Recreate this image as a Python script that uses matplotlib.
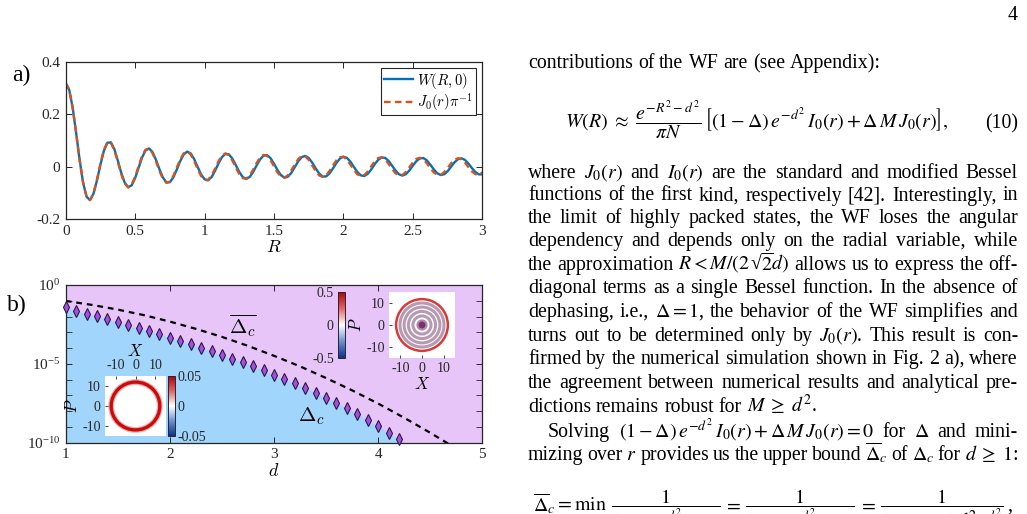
import numpy as np
import matplotlib
matplotlib.use('Agg')
import matplotlib.pyplot as plt
from matplotlib.patches import Circle
from matplotlib.colors import LinearSegmentedColormap, Normalize
from matplotlib.cm import ScalarMappable
from matplotlib.ticker import FixedLocator, FixedFormatter

# ---------------- data ----------------
# panel a: W(R,0) (numerics) and J0(r)/pi, sampled every 0.025 in R
R = np.linspace(0, 3, 121)
W_num = [0.3183, 0.2936, 0.2253, 0.1290, 0.0263, -0.0605, -0.1145, -0.1280, -0.1035,
         -0.0535, 0.0072, 0.0600, 0.0907,
         0.0924, 0.0669, 0.0236, -0.0239, -0.0615, -0.0787, -0.0717, -0.0438,
         -0.0043, 0.0347, 0.0616, 0.0690, 0.0556, 0.0261, -0.0101, -0.0419, -0.0601, -0.0597,
         -0.0415, -0.0114, 0.0212, 0.0464, 0.0570, 0.0502, 0.0286, -0.0011, -0.0297, -0.0486,
         -0.0525, -0.0405, -0.0166, 0.0117, 0.0359, 0.0487, 0.0466, 0.0305, 0.0056, -0.0205,
         -0.0400, -0.0470, -0.0397, -0.0206, 0.0044, 0.0275, 0.0420, 0.0436, 0.0320, 0.0109,
         -0.0131, -0.0328, -0.0422, -0.0388, -0.0237, -0.0017, 0.0205, 0.0362, 0.0407, 0.0329,
         0.0152, -0.0068, -0.0264, -0.0378, -0.0376, -0.0261, -0.0068, 0.0143, 0.0308, 0.0378,
         0.0333, 0.0188, -0.0012, -0.0206, -0.0335, -0.0362, -0.0278, -0.0112, 0.0087, 0.0257,
         0.0347, 0.0332, 0.0216, 0.0036, -0.0153, -0.0293, -0.0344, -0.0290, -0.0148, 0.0036,
         0.0208, 0.0315, 0.0326, 0.0238, 0.0079, -0.0103, -0.0252, -0.0323, -0.0296, -0.0179,
         -0.0009, 0.0162, 0.0282, 0.0316, 0.0254, 0.0116, -0.0057, -0.0210, -0.0299, -0.0296]
J0_pi = [0.3183, 0.2936, 0.2253, 0.1290, 0.0263, -0.0605, -0.1145, -0.1276, -0.1020,
         -0.0501, 0.0112, 0.0634, 0.0922,
         0.0915, 0.0637, 0.0188, -0.0288, -0.0649, -0.0794, -0.0694, -0.0391,
         0.0016, 0.0398, 0.0644, 0.0685, 0.0517, 0.0200, -0.0165, -0.0468, -0.0618, -0.0575,
         -0.0360, -0.0043, 0.0278, 0.0505, 0.0572, 0.0463, 0.0216, -0.0089, -0.0360, -0.0514,
         -0.0508, -0.0347, -0.0085, 0.0198, 0.0414, 0.0499, 0.0430, 0.0232, -0.0033, -0.0283,
         -0.0441, -0.0461, -0.0341, -0.0118, 0.0136, 0.0345, 0.0444, 0.0406, 0.0245, 0.0011,
         -0.0222, -0.0383, -0.0425, -0.0336, -0.0146, 0.0086, 0.0288, 0.0399, 0.0386, 0.0256,
         0.0048, -0.0171, -0.0334, -0.0394, -0.0332, -0.0169, 0.0043, 0.0240, 0.0360, 0.0369,
         0.0264, 0.0080, -0.0126, -0.0292, -0.0366, -0.0327, -0.0188, 0.0006, 0.0197, 0.0325,
         0.0352, 0.0271, 0.0108, -0.0087, -0.0253, -0.0339, -0.0321, -0.0204, -0.0027, 0.0158,
         0.0292, 0.0335, 0.0275, 0.0131, -0.0051, -0.0216, -0.0312, -0.0314, -0.0218, -0.0056,
         0.0122, 0.0261, 0.0318, 0.0277, 0.0152, -0.0019, -0.0183, -0.0289, -0.0306, -0.0228]

# panel b: Delta_c (diamonds) and its upper bound (dashed), as log10 values
d_pts = np.round(np.arange(1.0, 4.25, 0.1), 2)
delta_c_log10 = [-1.42, -1.65, -1.82, -1.99, -2.18, -2.37, -2.56, -2.75, -2.94, -3.11,
                 -3.34, -3.53, -3.74, -3.97, -4.19, -4.44, -4.67, -4.88, -5.16, -5.41,
                 -5.71, -5.98, -6.24, -6.53, -6.83, -7.15, -7.48, -7.82, -8.18, -8.56,
                 -8.94, -9.37, -9.77]
d_edge_extra = [4.3]
edge_extra_log10 = [-10.2]
d_bound = [1.0, 1.25, 1.5, 1.75, 2.0, 2.25, 2.5, 2.75, 3.0, 3.25, 3.5, 3.75, 4.0, 4.25, 4.5, 4.75]
bound_log10 = [-1.01, -1.26, -1.56, -1.91, -2.32, -2.78, -3.29, -3.86, -4.49, -5.16,
               -5.90, -6.68, -7.52, -8.42, -9.37, -10.37]

# insets: ring radii (phase-space units) seen in the two Wigner-function maps
rings_top = [4.2, 6.3, 8.3, 10.2]
ring_top_outer = 12.0
blob_top = [2.6, 1.6]
ring_bottom = 12.2

# ---------------- style ----------------
plt.rcParams['font.family'] = ['Liberation Serif', 'DejaVu Serif']
plt.rcParams['mathtext.fontset'] = 'cm'
plt.rcParams['axes.unicode_minus'] = False

W, H = 1027, 514
fig = plt.figure(figsize=(10.27, 5.14), dpi=100)
renderer = fig.canvas.get_renderer()

def fx(x):
    return x / W

def fy(y):
    return 1 - y / H

def box(x0, y0, x1, y1):
    return [fx(x0), fy(y1), fx(x1) - fx(x0), fy(y0) - fy(y1)]

axc = '#262626'

def matlab_axes(ax, fs=11):
    ax.tick_params(direction='in', top=True, right=True, length=4, width=0.7,
                   color=axc, labelsize=fs, labelcolor=axc, pad=4)
    ax.tick_params(which='minor', direction='in', top=True, right=True, length=2.5,
                   width=0.6, color=axc)
    for s in ax.spines.values():
        s.set_linewidth(0.9)
        s.set_color(axc)

# ---------------- panel a ----------------
ax1 = fig.add_axes(box(65.7, 61.7, 482.3, 219))
ax1.plot(R, W_num, color='#0072BD', lw=1.7, label=r'$W(R,0)$')
ax1.plot(R, J0_pi, color='#D95319', lw=1.7, dashes=(2.8, 1.8), label=r'$J_0(r)\pi^{-1}$')
ax1.set_xlim(0, 3)
ax1.set_ylim(-0.2, 0.4)
ax1.set_xticks([0, 0.5, 1, 1.5, 2, 2.5, 3])
ax1.set_xticklabels(['0', '0.5', '1', '1.5', '2', '2.5', '3'])
ax1.set_yticks([-0.2, 0, 0.2, 0.4])
ax1.set_yticklabels(['-0.2', '0', '0.2', '0.4'])
matlab_axes(ax1)
ax1.set_xlabel('$R$', fontsize=13, labelpad=1)
leg = ax1.legend(loc='upper right', fontsize=10.6, fancybox=False, framealpha=1,
                 edgecolor=axc, borderpad=0.15, handlelength=2.0, handletextpad=0.3,
                 labelspacing=0.05, borderaxespad=0.45)
leg.get_frame().set_linewidth(0.8)

# ---------------- panel b ----------------
ax2 = fig.add_axes(box(65.7, 285, 482.3, 442.7))
ax2.set_facecolor('#E7C5F9')
ax2.set_yscale('log')
edge_d = list(d_pts) + d_edge_extra
edge_y = 10.0 ** np.array(delta_c_log10 + edge_extra_log10)
ax2.fill_between(edge_d, 1e-12, edge_y, color='#A2D5FB', lw=0)
ax2.plot(d_bound, 10.0 ** np.array(bound_log10), color='black', lw=1.6, dashes=(2.6, 2.2))
ax2.plot(d_pts, 10.0 ** np.array(delta_c_log10), ls='none', marker='d', ms=5.8,
         mfc='#A24FE6', mec='#2B1B3C', mew=0.8, clip_on=False, zorder=5)
ax2.set_xlim(1, 5)
ax2.set_ylim(1e-10, 1)
ax2.set_xticks([1, 2, 3, 4, 5])
ax2.set_xticklabels(['1', '2', '3', '4', '5'])
ax2.yaxis.set_major_locator(FixedLocator([1e-10, 1e-5, 1]))
ax2.yaxis.set_major_formatter(FixedFormatter([r'$\mathdefault{10^{-10}}$',
                                              r'$\mathdefault{10^{-5}}$',
                                              r'$\mathdefault{10^{0}}$']))
ax2.yaxis.set_minor_locator(FixedLocator([10.0 ** (-k) for k in range(1, 10) if k != 5]))
ax2.yaxis.set_minor_formatter(FixedFormatter([]))
matlab_axes(ax2)
ax2.tick_params(which='minor', length=4)
ax2.set_xlabel('$d$', fontsize=13, labelpad=1)
ax2.text(2.70, 10 ** -2.6, r'$\overline{\Delta_c}$', fontsize=15, ha='center', va='center')
ax2.text(3.36, 10 ** -8.3, r'$\Delta_c$', fontsize=15, ha='center', va='center')

fig.text(fx(21), fy(75), 'a)', fontsize=17, ha='center', va='center')
fig.text(fx(17), fy(305), 'b)', fontsize=17, ha='center', va='center')

# ---------------- insets ----------------
cmap = LinearSegmentedColormap.from_list('rwb', ['#0d2f8c', '#6d8fd0', '#ffffff', '#e06565', '#b00010'])

def wigner_axes(rect):
    a = fig.add_axes(rect)
    a.set_facecolor('white')
    a.set_xlim(-15.3, 15.3)
    a.set_ylim(-15.3, 15.3)
    a.set_xticks([-10, 0, 10])
    a.set_yticks([-10, 0, 10])
    a.set_xticklabels(['-10', '0', '10'])
    a.set_yticklabels(['-10', '0', '10'])
    a.tick_params(direction='in', length=2, width=0.6, color=axc, labelsize=10,
                  labelcolor=axc, pad=3)
    for s in a.spines.values():
        s.set_visible(False)
    return a

# top-right map
ai1 = wigner_axes(box(389, 292, 455, 358))
for r in rings_top:
    ai1.add_patch(Circle((0, 0), r, fill=False, ec='#a5819f', lw=2.2, alpha=0.8))
ai1.add_patch(Circle((0, 0), ring_top_outer, fill=False, ec='#d83a3a', lw=1.8))
ai1.add_patch(Circle((0, 0), blob_top[0], color='#b386aa', lw=0))
ai1.add_patch(Circle((0, 0), blob_top[1], color='#7c2f6c', lw=0))
ai1.set_xlabel('$X$', fontsize=12, labelpad=1)
ai1.set_ylabel('$P$', fontsize=12, labelpad=1)

cb1 = fig.add_axes(box(338, 292, 345, 358))
c1 = fig.colorbar(ScalarMappable(Normalize(-0.5, 0.5), cmap), cax=cb1, ticks=[-0.5, 0, 0.5])
cb1.yaxis.set_ticks_position('left')
cb1.set_yticklabels(['-0.5', '0', '0.5'])
cb1.tick_params(labelsize=10, length=0, labelcolor=axc, pad=3)
c1.outline.set_linewidth(0.7)
c1.outline.set_edgecolor(axc)

# bottom-left map
ai2 = wigner_axes(box(105, 376, 166, 436))
ai2.add_patch(Circle((0, 0), ring_bottom, fill=False, ec='#e89090', lw=4.2, alpha=0.7))
ai2.add_patch(Circle((0, 0), ring_bottom, fill=False, ec='#c80c0c', lw=2.4))
ai2.xaxis.set_ticks_position('top')
ai2.xaxis.set_label_position('top')
ai2.set_xlabel('$X$', fontsize=12, labelpad=2)
ai2.set_ylabel('$P$', fontsize=12, labelpad=1)

cb2 = fig.add_axes(box(168, 376, 175, 436))
c2 = fig.colorbar(ScalarMappable(Normalize(-0.05, 0.05), cmap), cax=cb2, ticks=[-0.05, 0, 0.05])
cb2.set_yticklabels(['-0.05', '0', '0.05'])
cb2.tick_params(labelsize=10, length=0, labelcolor=axc, pad=2)
c2.outline.set_linewidth(0.7)
c2.outline.set_edgecolor(axc)

# ---------------- text column ----------------
FS = 14.3
X0, X1 = 528, 1018

def tx(x, y, s, ha='left', fs=FS):
    return fig.text(fx(x), fy(y), s, fontsize=fs, va='baseline', ha=ha, math_fontfamily='stix')

def put_line(line, y, justify=True, indent=0):
    words = line.split()
    ts = [tx(0, y, w) for w in words]
    ws = [t.get_window_extent(renderer).width for t in ts]
    if justify and len(ws) > 1:
        gap = (X1 - X0 - indent - sum(ws)) / (len(ws) - 1)
    else:
        gap = FS * 0.25 * 100 / 72
    x = X0 + indent
    for t, w in zip(ts, ws):
        t.set_x(fx(x))
        x += w + gap

tx(1018, 20, '4', ha='right')
put_line('contributions of the WF are (see Appendix):', 68, justify=False)

tx(565, 128, r'$W(R)\ \approx\ \dfrac{e^{-R^2-d^2}}{\pi N}\,\left[(1-\Delta)\,e^{-d^2}\,I_0(r)+\Delta\,M\,J_0(r)\right],$')
tx(1018, 128, '(10)', ha='right')

body = [
    ('where $J_0(r)$ and $I_0(r)$ are the standard and modified Bessel', 178, True, 0),
    ('functions of the first kind, respectively [42]. Interestingly, in', 200.5, True, 0),
    ('the limit of highly packed states, the WF loses the angular', 223, True, 0),
    ('dependency and depends only on the radial variable, while', 246, True, 0),
    (r'the approximation $R{<}M/(2\,$√$\overline{2}d)$ allows us to express the off-', 270, True, 0),
    ('diagonal terms as a single Bessel function. In the absence of', 293, True, 0),
    (r'dephasing, i.e., $\Delta=1$, the behavior of the WF simplifies and', 317, True, 0),
    ('turns out to be determined only by $J_0(r)$. This result is con-', 341, True, 0),
    ('firmed by the numerical simulation shown in Fig. 2 a), where', 364, True, 0),
    ('the agreement between numerical results and analytical pre-', 388, True, 0),
    (r'dictions remains robust for $M\;\geq\;d^2$.', 412, False, 0),
    (r'Solving $(1-\Delta)\,e^{-d^2}\,I_0(r)+\Delta\,M\,J_0(r)=0$ for $\Delta$ and mini-', 437, True, 20),
    (r'mizing over $r$ provides us the upper bound $\overline{\Delta}_c$ of $\Delta_c$ for $d\;\geq\;1$:', 460, True, 0),
]
for line, y, just, ind in body:
    put_line(line, y, justify=just, indent=ind)

# last display equation (cut by the page edge)
tx(533, 511, r'$\overline{\Delta}_c=\mathrm{min}$')
tx(666, 511, r'$\dfrac{1}{1-Me^{d^2}J_0/I_0}$', ha='center')
tx(733, 511, r'$=$', ha='center')
tx(800, 511, r'$\dfrac{1}{1+Me^{d^2}J_0/I_0}$', ha='center')
tx(868, 511, r'$=$', ha='center')
tx(942, 511, r'$\dfrac{1}{1+0.071\,d^{2}e^{d^2}}$', ha='center')
tx(1007, 511, ',')

fig.savefig('out.png', dpi=100)
